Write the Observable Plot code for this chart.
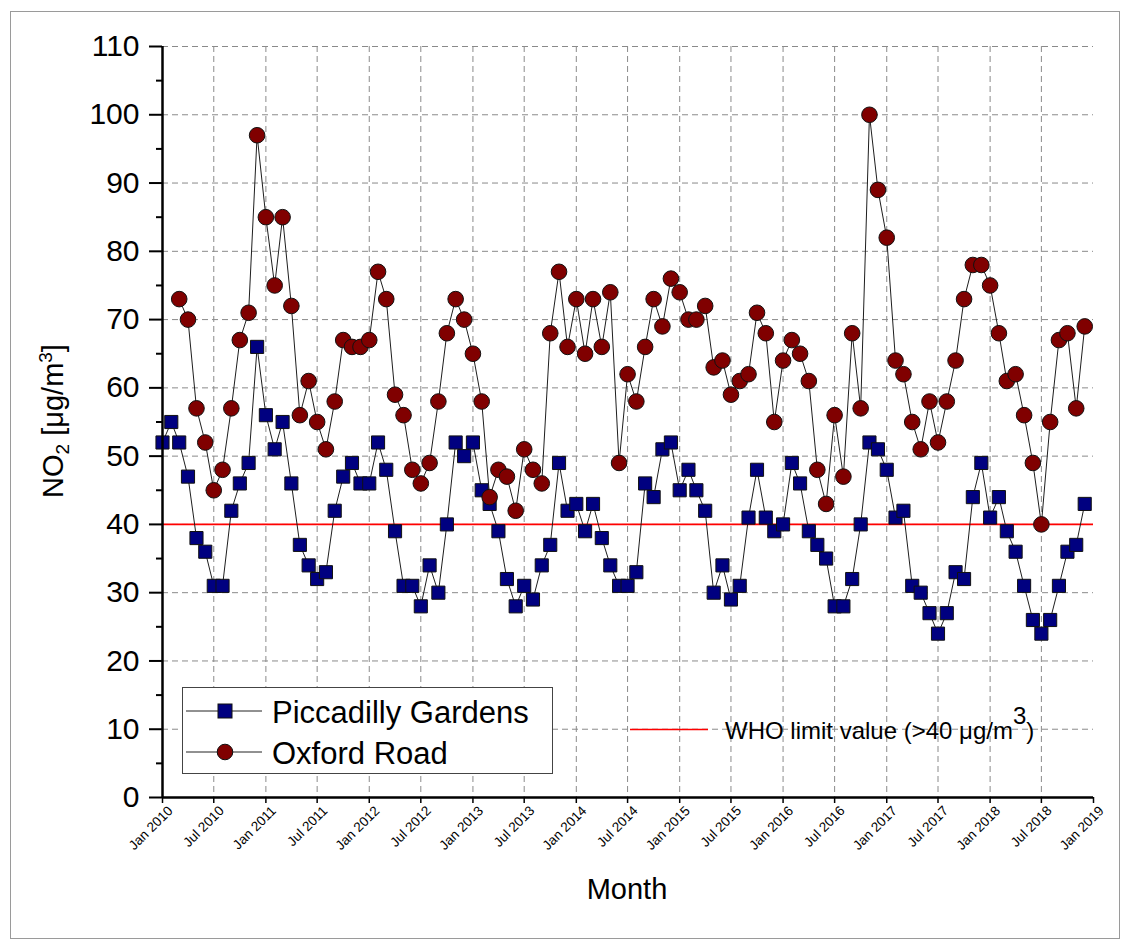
<!DOCTYPE html>
<html>
<head>
<meta charset="utf-8">
<script src="https://cdn.jsdelivr.net/npm/d3@7"></script>
<script src="https://cdn.jsdelivr.net/npm/@observablehq/plot@0.6"></script>
<style>
  body { margin: 0; background: #fff; font-family: "Liberation Sans", Arial, sans-serif; }
  #wrap { position: relative; width: 1128px; height: 947px; overflow: hidden; }
  #border { position: absolute; left: 10px; top: 11px; width: 1110px; height: 928px; border: 1px solid #9a9a9a; box-sizing: border-box; pointer-events: none; }
  #chart { position: absolute; left: 0; top: 0; }
  .legend { position: absolute; left: 182px; top: 687px; width: 371px; height: 87px; box-sizing: border-box;
            border: 1.2px solid #444; background: #fff; }
  .entry { position: absolute; left: 0; height: 40px; width: 100%; }
  .entry svg { position: absolute; left: 3px; top: 0; }
  .entry span { position: absolute; left: 89px; font-size: 31px; line-height: 1; color: #000; white-space: nowrap; }
  .who { position: absolute; left: 630px; top: 712px; width: 430px; height: 40px; }
  .who svg { position: absolute; left: 0; top: 0; }
  .who span { position: absolute; left: 95px; top: 7px; font-size: 24px; line-height: 1; color: #000; white-space: nowrap; }
  .who sup { font-size: 24px; vertical-align: 0; position: relative; top: -15px; }
</style>
</head>
<body>
<div id="wrap">
  <div id="chart"></div>
  <div class="legend">
    <div class="entry" style="top:3px">
      <svg width="80" height="40"><line x1="0" y1="20" x2="76" y2="20" stroke="#222" stroke-width="1"/>
        <rect x="32" y="13" width="14" height="14" fill="#000080" stroke="#111" stroke-width="1"/></svg>
      <span style="top:6px">Piccadilly Gardens</span>
    </div>
    <div class="entry" style="top:44px">
      <svg width="80" height="40"><line x1="0" y1="20" x2="76" y2="20" stroke="#222" stroke-width="1"/>
        <circle cx="39" cy="20" r="7.8" fill="#800000" stroke="#111" stroke-width="1"/></svg>
      <span style="top:6px">Oxford Road</span>
    </div>
  </div>
  <div class="who">
    <svg width="80" height="40"><line x1="0" y1="17.5" x2="78" y2="17.5" stroke="#ff0000" stroke-width="1.6"/></svg>
    <span>WHO limit value (&gt;40 μg/m<sup>3</sup>)</span>
  </div>
  <div id="border"></div>
</div>
<script>
// Monthly mean NO2 concentrations (µg/m³) at two Manchester monitoring sites
const piccadillyStart = "2010-01";
const piccadilly = [
  52, 55, 52, 47, 38, 36, 31, 31, 42, 46, 49, 66,   // 2010
  56, 51, 55, 46, 37, 34, 32, 33, 42, 47, 49, 46,   // 2011
  46, 52, 48, 39, 31, 31, 28, 34, 30, 40, 52, 50,   // 2012
  52, 45, 43, 39, 32, 28, 31, 29, 34, 37, 49, 42,   // 2013
  43, 39, 43, 38, 34, 31, 31, 33, 46, 44, 51, 52,   // 2014
  45, 48, 45, 42, 30, 34, 29, 31, 41, 48, 41, 39,   // 2015
  40, 49, 46, 39, 37, 35, 28, 28, 32, 40, 52, 51,   // 2016
  48, 41, 42, 31, 30, 27, 24, 27, 33, 32, 44, 49,   // 2017
  41, 44, 39, 36, 31, 26, 24, 26, 31, 36, 37, 43    // 2018
];

const oxfordStart = "2010-03";
const oxford = [
  73, 70, 57, 52, 45, 48, 57, 67, 71, 97,           // Mar–Dec 2010
  85, 75, 85, 72, 56, 61, 55, 51, 58, 67, 66, 66,   // 2011
  67, 77, 73, 59, 56, 48, 46, 49, 58, 68, 73, 70,   // 2012
  65, 58, 44, 48, 47, 42, 51, 48, 46, 68, 77, 66,   // 2013
  73, 65, 73, 66, 74, 49, 62, 58, 66, 73, 69, 76,   // 2014
  74, 70, 70, 72, 63, 64, 59, 61, 62, 71, 68, 55,   // 2015
  64, 67, 65, 61, 48, 43, 56, 47, 68, 57, 100, 89,  // 2016
  82, 64, 62, 55, 51, 58, 52, 58, 64, 73, 78, 78,   // 2017
  75, 68, 61, 62, 56, 49, 40, 55, 67, 68, 57, 69    // 2018
];

const whoLimit = 40;

const yTicks = [0, 10, 20, 30, 40, 50, 60, 70, 80, 90, 100, 110];
const yMinorTicks = [5, 15, 25, 35, 45, 55, 65, 75, 85, 95, 105];
const xTickLabels = [
  "Jan 2010", "Jul 2010", "Jan 2011", "Jul 2011", "Jan 2012", "Jul 2012",
  "Jan 2013", "Jul 2013", "Jan 2014", "Jul 2014", "Jan 2015", "Jul 2015",
  "Jan 2016", "Jul 2016", "Jan 2017", "Jul 2017", "Jan 2018", "Jul 2018", "Jan 2019"
];

const parseMonth = d3.utcParse("%Y-%m");
const parseLabel = d3.utcParse("%b %Y");
const formatLabel = d3.utcFormat("%b %Y");

const toSeries = (start, values) =>
  values.map((v, i) => ({date: d3.utcMonth.offset(parseMonth(start), i), value: v}));

const picData = toSeries(piccadillyStart, piccadilly);
const oxfData = toSeries(oxfordStart, oxford);

const xTickDates = xTickLabels.map(parseLabel);
const xDomain = [xTickDates[0], xTickDates[xTickDates.length - 1]];
const xGridDates = xTickDates.slice(1, -1);

const font = "'Liberation Sans', Arial, sans-serif";

const chart = Plot.plot({
  width: 1128,
  height: 947,
  marginLeft: 162,
  marginRight: 35,
  marginTop: 46,
  marginBottom: 150,
  style: {fontFamily: font, background: "transparent", color: "#000"},
  x: {type: "utc", domain: xDomain},
  y: {domain: [0, 110]},
  marks: [
    Plot.gridY(yTicks.slice(1), {stroke: "#8a8a8a", strokeOpacity: 1, strokeWidth: 1, strokeDasharray: "6,4"}),
    Plot.gridX(xGridDates, {stroke: "#8a8a8a", strokeOpacity: 1, strokeWidth: 1, strokeDasharray: "6,4"}),
    Plot.ruleY([whoLimit], {stroke: "#ff0000", strokeWidth: 1.6}),
    Plot.line(picData, {x: "date", y: "value", stroke: "#1e1e1e", strokeWidth: 1}),
    Plot.dot(picData, {x: "date", y: "value", symbol: "square", r: 7.4, fill: "#000080", stroke: "#111", strokeWidth: 1}),
    Plot.line(oxfData, {x: "date", y: "value", stroke: "#1e1e1e", strokeWidth: 1}),
    Plot.dot(oxfData, {x: "date", y: "value", r: 7.8, fill: "#800000", stroke: "#111", strokeWidth: 1}),
    Plot.axisY(yTicks, {tickSize: 13, tickPadding: 10, fontSize: 30, label: null, strokeWidth: 2}),
    Plot.axisY(yMinorTicks, {tickSize: 6, tickFormat: () => "", label: null, strokeWidth: 2}),
    // tick marks and rotated labels drawn separately so the labels can be nudged
    Plot.axisX(xTickDates, {tickSize: 6, tickFormat: () => "", label: null, strokeWidth: 1.5}),
    Plot.axisX(xTickDates, {tickSize: 0, tickRotate: -45, tickPadding: 8, tickFormat: formatLabel, fontSize: 13.5, label: null, dx: 8, dy: 3}),
    Plot.ruleX([xDomain[0]], {stroke: "#000", strokeWidth: 2.5}),
    Plot.ruleY([0], {stroke: "#000", strokeWidth: 2.5})
  ]
});

// Axis titles with sub/superscripts
const svg = d3.select(chart);
const yTitle = svg.append("text")
  .attr("transform", "translate(63,421) rotate(-90)")
  .attr("text-anchor", "middle")
  .attr("font-family", font)
  .attr("font-size", 29)
  .attr("fill", "#000");
yTitle.append("tspan").text("NO");
yTitle.append("tspan").attr("font-size", 19).attr("dy", 6).text("2");
yTitle.append("tspan").attr("dy", -6).text(" [μg/m");
yTitle.append("tspan").attr("font-size", 19).attr("dy", -11).text("3");
yTitle.append("tspan").attr("dy", 11).text("]");

svg.append("text")
  .attr("x", 627)
  .attr("y", 899)
  .attr("text-anchor", "middle")
  .attr("font-family", font)
  .attr("font-size", 29)
  .attr("fill", "#000")
  .text("Month");

document.getElementById("chart").appendChild(chart);
</script>
</body>
</html>
